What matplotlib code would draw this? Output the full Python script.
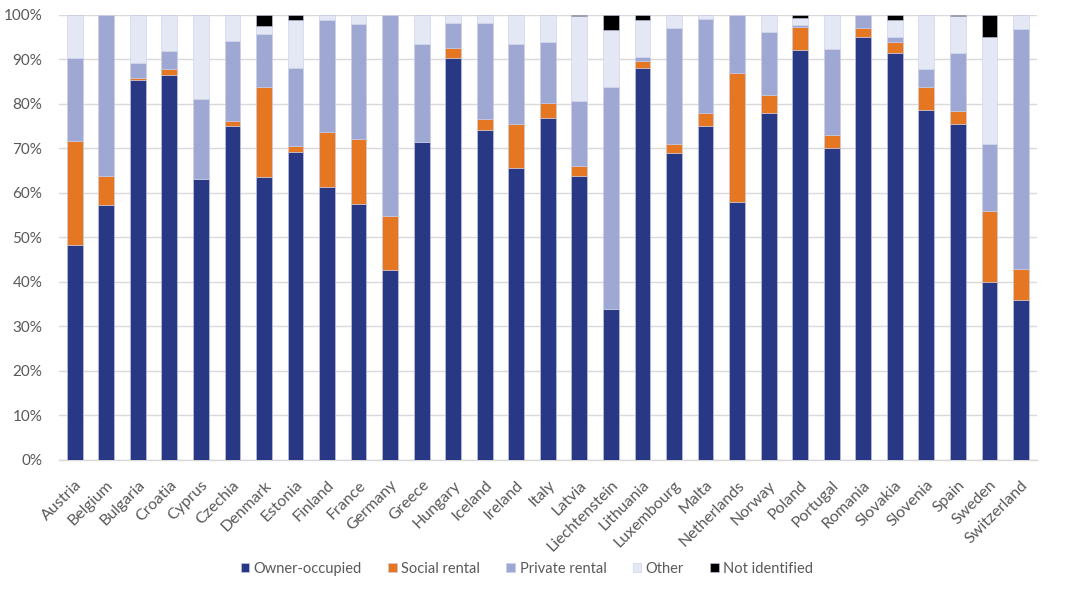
import numpy as np
import matplotlib
matplotlib.use('Agg')
import matplotlib.pyplot as plt
from matplotlib.ticker import PercentFormatter

#Data (shares in %)#
countries = ['Austria', 'Belgium', 'Bulgaria', 'Croatia', 'Cyprus', 'Czechia', 'Denmark', 'Estonia',
             'Finland', 'France', 'Germany', 'Greece', 'Hungary', 'Iceland', 'Ireland', 'Italy', 'Latvia',
             'Liechtenstein', 'Lithuania', 'Luxembourg', 'Malta', 'Netherlands', 'Norway', 'Poland',
             'Portugal', 'Romania', 'Slovakia', 'Slovenia', 'Spain', 'Sweden', 'Switzerland']
owner = [48.2, 57.2, 85.3, 86.4, 63.1, 75.0, 63.5, 69.2, 61.4, 57.5, 42.7, 71.5, 90.3, 74.2, 65.5, 76.8,
         63.9, 34.0, 88.0, 69.0, 75.1, 58.0, 78.0, 92.0, 70.0, 95.1, 91.5, 78.7, 75.4, 39.9, 36.0]
social = [23.4, 6.6, 0.6, 1.4, 0.0, 1.1, 20.3, 1.4, 12.2, 14.7, 12.2, 0.0, 2.2, 2.4, 10.0, 3.3,
          2.1, 0.0, 1.7, 2.0, 2.9, 29.0, 3.9, 5.2, 3.0, 2.0, 2.5, 5.0, 3.0, 16.0, 6.9]
private = [18.8, 36.2, 3.2, 4.0, 17.9, 18.0, 11.9, 17.4, 25.2, 25.8, 45.1, 21.9, 5.6, 21.5, 18.0, 13.7,
           14.7, 49.7, 0.8, 26.0, 21.1, 12.9, 14.2, 0.5, 19.3, 2.9, 1.1, 4.1, 13.1, 15.1, 54.0]
other = [9.6, 0.0, 10.9, 8.2, 19.0, 5.9, 1.8, 10.8, 1.2, 2.0, 0.0, 6.6, 1.9, 1.9, 6.5, 6.2,
         19.0, 12.9, 8.4, 3.0, 0.9, 0.1, 3.9, 1.5, 7.7, 0.0, 3.8, 12.2, 8.3, 24.0, 3.1]
not_ident = [0.0, 0.0, 0.0, 0.0, 0.0, 0.0, 2.5, 1.2, 0.0, 0.0, 0.0, 0.0, 0.0, 0.0, 0.0, 0.0,
             0.3, 3.4, 1.1, 0.0, 0.0, 0.0, 0.0, 0.8, 0.0, 0.0, 1.1, 0.0, 0.2, 5.0, 0.0]
series = ['Owner-occupied', 'Social rental', 'Private rental', 'Other', 'Not identified']
colors = ['#283884', '#E67722', '#9FA8D3', '#E4E8F5', '#000000']
#/Data#

font = ['Lato', 'DejaVu Sans']
tick_col = '#595959'

fig = plt.figure(figsize=(10.71, 5.92), dpi=100)
fig.patch.set_facecolor('white')
ax = fig.add_axes([0.055, 0.223, 0.913, 0.752])

x = np.arange(len(countries))
bottom = np.zeros(len(countries))
for name, vals, col in zip(series, [owner, social, private, other, not_ident], colors):
    vals = np.asarray(vals)
    ax.bar(x, vals, 0.5, bottom=bottom, color=col, label=name, edgecolor='#C9CDE8', linewidth=0.4, zorder=3)
    bottom += vals

ax.set_ylim(0, 100)
ax.set_xlim(-0.5, len(countries) - 0.5)
ax.set_yticks(np.arange(0, 101, 10))
ax.yaxis.set_major_formatter(PercentFormatter(decimals=0))
ax.grid(axis='y', color='#D9D9D9', linewidth=1, zorder=0)
for s in ['top', 'right', 'left']:
    ax.spines[s].set_visible(False)
ax.spines['bottom'].set_color('#D9D9D9')
ax.spines['bottom'].set_linewidth(1)
ax.tick_params(axis='y', length=0, colors=tick_col, labelsize=11, pad=12)
ax.tick_params(axis='x', length=0, colors=tick_col, labelsize=11.5, pad=13)
ax.set_xticks(x)
ax.set_xticklabels(countries, rotation=45, ha='right', rotation_mode='anchor')
for lab in ax.get_xticklabels() + ax.get_yticklabels():
    lab.set_family(font)
    lab.set_color(tick_col)

leg = fig.legend(loc='center', bbox_to_anchor=(0.492, 0.039), ncol=5, frameon=False,
                 handlelength=0.6, handleheight=0.6, handletextpad=0.3, columnspacing=1.8,
                 prop={'family': font, 'size': 10.5})
for t in leg.get_texts():
    t.set_color(tick_col)

plt.savefig('out.png', dpi=100)
